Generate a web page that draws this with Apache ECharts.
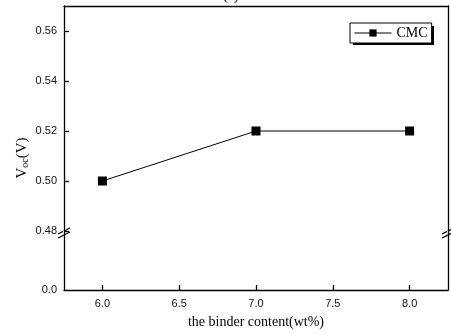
<!DOCTYPE html>
<html>
<head>
<meta charset="utf-8">
<script src="https://cdn.jsdelivr.net/npm/echarts@6/dist/echarts.min.js"></script>
<style>
  html, body { margin: 0; padding: 0; background: #fff; }
  #chart { width: 451px; height: 334px; }
</style>
</head>
<body>
<div id="chart"></div>
<script>
// binder content (wt%) and open circuit voltage
var binderContent = [6.0, 7.0, 8.0];
var vocCMC = [0.50, 0.52, 0.52];
var xTicks = [6.0, 6.5, 7.0, 7.5, 8.0];
var seriesName = 'CMC';

var myChart = echarts.init(document.getElementById('chart'));

var axisLineStyle = { color: '#000', width: 1.3 };
var tickFont = { color: '#111', fontSize: 11, fontFamily: 'Liberation Sans, Arial, sans-serif' };

function breakMark(x, y) {
  // two small parallel slashes
  return [
    { type: 'line', shape: { x1: x - 6, y1: y + 3, x2: x + 6, y2: y - 3 }, style: { stroke: '#000', lineWidth: 1.2 } },
    { type: 'line', shape: { x1: x - 6, y1: y + 7, x2: x + 6, y2: y + 1 }, style: { stroke: '#000', lineWidth: 1.2 } },
    { type: 'rect', shape: { x: x - 1, y: y - 0.5, width: 2, height: 2.5 }, style: { fill: '#fff' } }
  ];
}

var option = {
  backgroundColor: '#fff',
  animation: false,
  grid: [
    { left: 64, right: 3, top: 6, height: 225 },
    { left: 64, right: 3, top: 231, height: 59 }
  ],
  xAxis: [
    {
      gridIndex: 0, type: 'value', position: 'top', min: 5.75, max: 8.25,
      axisLine: { show: true, lineStyle: axisLineStyle },
      axisTick: { show: false }, axisLabel: { show: false }, splitLine: { show: false }
    },
    {
      gridIndex: 1, type: 'value', position: 'bottom', min: 5.75, max: 8.25,
      axisLine: { show: true, lineStyle: axisLineStyle },
      axisTick: { show: true, inside: true, length: 5, customValues: xTicks, lineStyle: axisLineStyle },
      axisLabel: Object.assign({ customValues: xTicks, margin: 8, formatter: function (v) { return v.toFixed(1); } }, tickFont),
      splitLine: { show: false },
      name: 'the binder content(wt%)', nameLocation: 'middle', nameGap: 25,
      nameTextStyle: { color: '#000', fontSize: 14, fontFamily: 'Liberation Serif, Times New Roman, serif' }
    }
  ],
  yAxis: [
    {
      gridIndex: 0, type: 'value', position: 'left', min: 0.48, max: 0.57, interval: 0.02,
      axisLine: { show: true, lineStyle: axisLineStyle },
      axisTick: { show: true, inside: true, length: 5, lineStyle: axisLineStyle },
      axisLabel: Object.assign({ showMaxLabel: false, margin: 7, formatter: function (v) { return v.toFixed(2); } }, tickFont),
      splitLine: { show: false }
    },
    {
      gridIndex: 0, type: 'value', position: 'right', min: 0.48, max: 0.57,
      axisLine: { show: true, lineStyle: axisLineStyle },
      axisTick: { show: false }, axisLabel: { show: false }, splitLine: { show: false }
    },
    {
      gridIndex: 1, type: 'value', position: 'left', min: 0, max: 0.1, interval: 0.1,
      axisLine: { show: true, lineStyle: axisLineStyle },
      axisTick: { show: false },
      axisLabel: Object.assign({ showMaxLabel: false, margin: 7, formatter: function (v) { return v.toFixed(1); } }, tickFont),
      splitLine: { show: false }
    },
    {
      gridIndex: 1, type: 'value', position: 'right', min: 0, max: 0.1,
      axisLine: { show: true, lineStyle: axisLineStyle },
      axisTick: { show: false }, axisLabel: { show: false }, splitLine: { show: false }
    }
  ],
  legend: {
    left: 350, top: 23,
    padding: [3, 4, 3, 4],
    itemWidth: 37, itemHeight: 9,
    backgroundColor: '#fff',
    borderColor: '#000', borderWidth: 1, borderRadius: 0,
    z: 10,
    lineStyle: { width: 1 },
    textStyle: { color: '#000', fontSize: 14, fontFamily: 'Liberation Serif, Times New Roman, serif' },
    data: [seriesName]
  },
  series: [
    {
      name: seriesName, type: 'line', xAxisIndex: 0, yAxisIndex: 0,
      data: binderContent.map(function (x, i) { return [x, vocCMC[i]]; }),
      symbol: 'rect', symbolSize: 9,
      itemStyle: { color: '#000' },
      lineStyle: { color: '#000', width: 1 }
    }
  ],
  graphic: [
    {
      // legend drop shadow
      type: 'rect', z: 1, shape: { x: 353, y: 26, width: 81, height: 19 },
      style: { fill: '#000' }
    },
    {
      type: 'text', x: 22, y: 158, rotation: Math.PI / 2,
      style: {
        text: 'V{s|oc}(V)', align: 'center', verticalAlign: 'middle',
        fill: '#000', fontSize: 15, fontFamily: 'Liberation Serif, Times New Roman, serif',
        rich: { s: { fontSize: 10, fontFamily: 'Liberation Serif, serif', verticalAlign: 'bottom', padding: [6, 0, 0, 0] } }
      }
    },
    {
      type: 'text', x: 231, y: -11,
      style: { text: '(a)', align: 'center', fill: '#000', fontSize: 14, fontFamily: 'Liberation Serif, serif' }
    }
  ].concat(breakMark(64, 231), breakMark(448, 231))
};

myChart.setOption(option);
</script>
</body>
</html>
